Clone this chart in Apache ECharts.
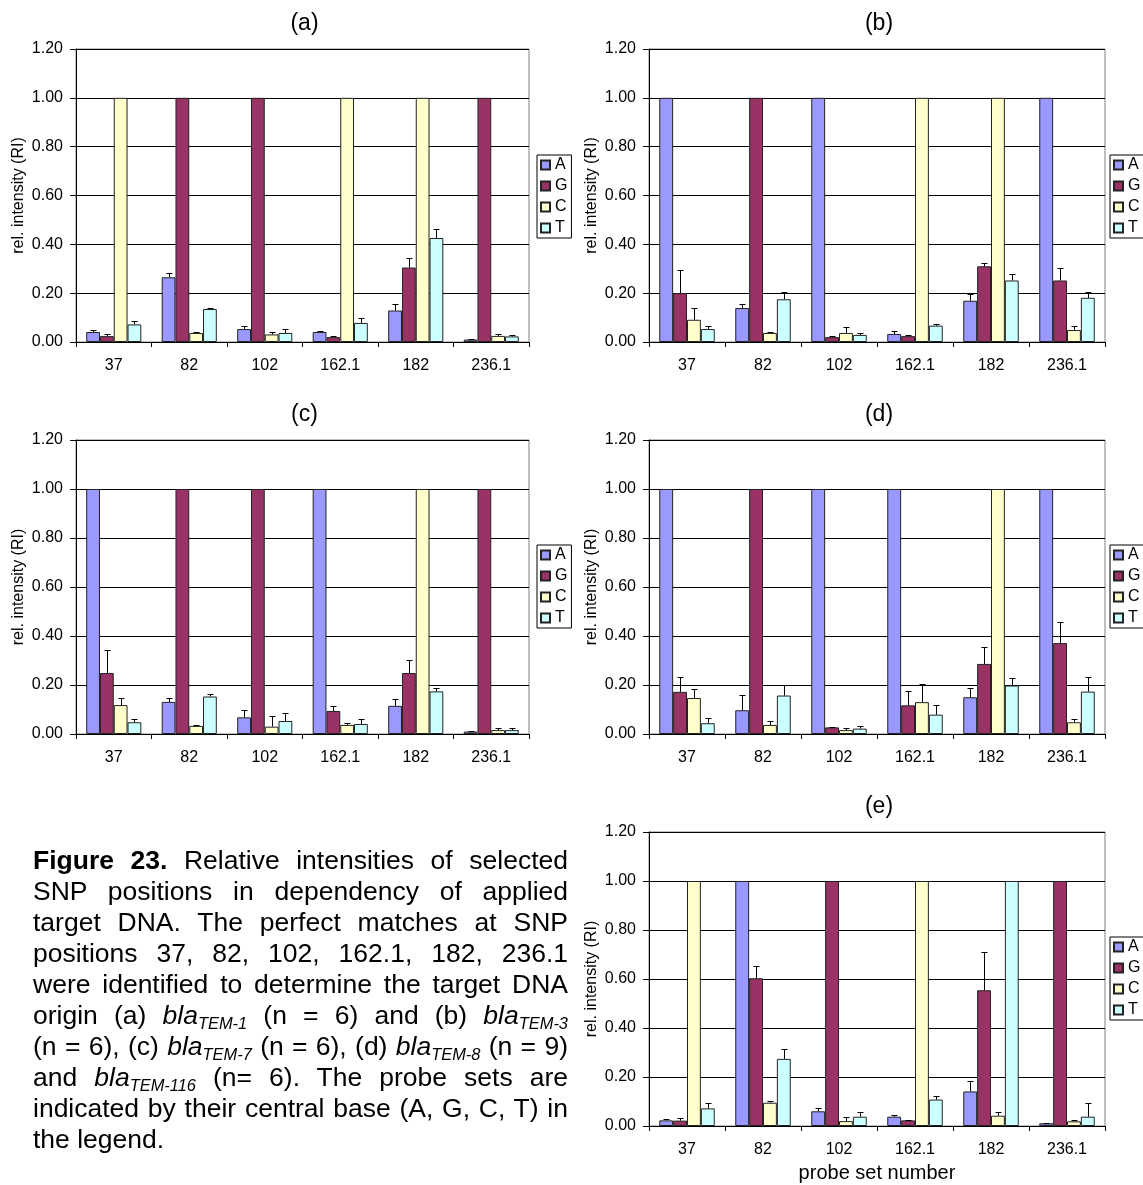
<!DOCTYPE html>
<html>
<head>
<meta charset="utf-8">
<script src="https://cdn.jsdelivr.net/npm/echarts@6/dist/echarts.min.js"></script>
<style>
    html, body { margin: 0; padding: 0; background: #fff; }
    #chart { position: absolute; left: 0; top: 0; width: 1143px; height: 1185px; }
    #caption {
        position: absolute; left: 33px; top: 845px; width: 535px;
        font-family: 'Liberation Sans', Arial, sans-serif; font-size: 26.5px; line-height: 31px; color: #000;
    }
    #caption div { text-align: justify; text-align-last: justify; white-space: nowrap; }
    #caption div.last { text-align-last: left; }
    #caption sub { font-size: 0.62em; vertical-align: -0.3em; line-height: 0; }
</style>
</head>
<body>
<div id="chart"></div>
<div id="caption">
    <div><b>Figure 23.</b> Relative intensities of selected</div>
    <div>SNP positions in dependency of applied</div>
    <div>target DNA. The perfect matches at SNP</div>
    <div>positions 37, 82, 102, 162.1, 182, 236.1</div>
    <div>were identified to determine the target DNA</div>
    <div>origin (a) <i>bla<sub>TEM-1</sub></i> (n = 6) and (b) <i>bla<sub>TEM-3</sub></i></div>
    <div>(n = 6), (c) <i>bla<sub>TEM-7</sub></i> (n = 6), (d) <i>bla<sub>TEM-8</sub></i> (n = 9)</div>
    <div>and <i>bla<sub>TEM-116</sub></i> (n= 6). The probe sets are</div>
    <div>indicated by their central base (A, G, C, T) in</div>
    <div class="last">the legend.</div>
</div>
<script>
    'use strict';

    // probe set numbers and central bases
    var categories = ['37', '82', '102', '162.1', '182', '236.1'];
    var bases = ['A', 'G', 'C', 'T'];

    // relative intensities, rows = A, G, C, T
    var relA = [
        [0.041, 0.265, 0.053, 0.041, 0.129, 0.010],
        [0.024, 1.00, 1.00, 0.020, 0.305, 1.00],
        [1.00, 0.037, 0.031, 1.00, 1.00, 0.025],
        [0.072, 0.135, 0.037, 0.078, 0.426, 0.023]
    ];
    var errA = [
        [0.007, 0.017, 0.014, 0.003, 0.027, 0.002],
        [0.009, 0, 0, 0.004, 0.038, 0],
        [0, 0.004, 0.011, 0, 0, 0.008],
        [0.012, 0.004, 0.017, 0.020, 0.038, 0.006]
    ];

    var relB = [
        [1.00, 0.139, 1.00, 0.033, 0.169, 1.00],
        [0.200, 1.00, 0.020, 0.024, 0.310, 0.252],
        [0.091, 0.037, 0.037, 1.00, 1.00, 0.049],
        [0.053, 0.175, 0.029, 0.067, 0.252, 0.181]
    ];
    var errB = [
        [0, 0.016, 0, 0.011, 0.028, 0],
        [0.093, 0, 0.004, 0.003, 0.014, 0.050],
        [0.048, 0.002, 0.023, 0, 0, 0.015],
        [0.011, 0.028, 0.008, 0.006, 0.027, 0.023]
    ];

    var relC = [
        [1.00, 0.131, 0.068, 1.00, 0.115, 0.010],
        [0.249, 1.00, 1.00, 0.094, 0.249, 1.00],
        [0.118, 0.033, 0.030, 0.037, 1.00, 0.016],
        [0.048, 0.153, 0.053, 0.041, 0.174, 0.016]
    ];
    var errC = [
        [0, 0.017, 0.030, 0, 0.029, 0.002],
        [0.095, 0, 0, 0.021, 0.054, 0],
        [0.028, 0.004, 0.044, 0.009, 0, 0.007],
        [0.014, 0.010, 0.033, 0.021, 0.015, 0.009]
    ];

    var relD = [
        [1.00, 0.097, 1.00, 1.00, 0.150, 1.00],
        [0.172, 1.00, 0.027, 0.117, 0.286, 0.371],
        [0.147, 0.037, 0.016, 0.130, 1.00, 0.048],
        [0.044, 0.157, 0.022, 0.079, 0.198, 0.173]
    ];
    var errD = [
        [0, 0.061, 0, 0, 0.036, 0],
        [0.060, 0, 0.003, 0.060, 0.069, 0.086],
        [0.036, 0.015, 0.010, 0.073, 0, 0.015],
        [0.020, 0.045, 0.009, 0.041, 0.031, 0.059]
    ];

    var relE = [
        [0.023, 1.00, 0.060, 0.038, 0.141, 0.011],
        [0.022, 0.603, 1.00, 0.023, 0.554, 1.00],
        [1.00, 0.095, 0.020, 1.00, 0.042, 0.019],
        [0.072, 0.274, 0.038, 0.108, 1.00, 0.038]
    ];
    var errE = [
        [0.007, 0, 0.012, 0.007, 0.042, 0.003],
        [0.012, 0.052, 0, 0.003, 0.155, 0],
        [0, 0.009, 0.015, 0, 0.015, 0.004],
        [0.021, 0.041, 0.021, 0.013, 0, 0.055]
    ];

    var yTicks = [0, 0.2, 0.4, 0.6, 0.8, 1.0, 1.2];

    // layout
    var colors = ['#9999ff', '#993366', '#ffffcc', '#ccffff'];
    var font = "'Liberation Sans', Arial, sans-serif";
    var gapPct = 0.27;
    var panels = [
        {label: '(a)', rel: relA, err: errA, left: 76, top: 49, width: 453, height: 293, lgLeft: 537, lgTop: 155},
        {label: '(b)', rel: relB, err: errB, left: 649, top: 49, width: 456, height: 293, lgLeft: 1110, lgTop: 155},
        {label: '(c)', rel: relC, err: errC, left: 76, top: 440, width: 453, height: 294, lgLeft: 537, lgTop: 545},
        {label: '(d)', rel: relD, err: errD, left: 649, top: 440, width: 456, height: 294, lgLeft: 1110, lgTop: 545},
        {label: '(e)', rel: relE, err: errE, left: 649, top: 832, width: 456, height: 294, lgLeft: 1110, lgTop: 937, xName: 'probe set number'}
    ];

    //误差线
    var makeErr = function (k) {
        return function (params, api) {
            var i = api.value(0), v = api.value(1), e = api.value(2);
            if (!e) {
                return;
            }
            var p0 = api.coord([i, v]);
            var p1 = api.coord([i, v + e]);
            var band = api.size([1, 0])[0];
            var cluster = band * (1 - gapPct);
            var x = Math.round(p0[0] - cluster / 2 + (k + 0.5) * cluster / 4) + 0.5;
            var yTop = Math.round(p1[1]) + 0.5;
            var style = {stroke: '#000', lineWidth: 1};
            return {
                type: 'group',
                children: [
                    {type: 'line', shape: {x1: x, y1: p0[1], x2: x, y2: yTop}, style: style},
                    {type: 'line', shape: {x1: x - 3, y1: yTop, x2: x + 3, y2: yTop}, style: style}
                ]
            };
        };
    };

    var option = {
        animation: false,
        backgroundColor: '#fff',
        textStyle: {fontFamily: font},
        title: [], grid: [], xAxis: [], yAxis: [], legend: [], series: []
    };

    panels.forEach(function (p, g) {
        option.title.push({
            text: p.label, left: p.left + p.width / 2 + 2, top: p.top - 37, textAlign: 'center', padding: 0,
            textStyle: {fontSize: 23, fontWeight: 'normal', color: '#000', lineHeight: 23, fontFamily: font}
        });
        option.grid.push({
            left: p.left, top: p.top, width: p.width, height: p.height,
            show: true, borderColor: '#808080', borderWidth: 1
        });
        option.xAxis.push({
            gridIndex: g, type: 'category', data: categories,
            axisLine: {lineStyle: {color: '#000', width: 1}},
            axisTick: {show: true, length: 5, lineStyle: {color: '#000'}},
            axisLabel: {color: '#000', fontSize: 16, margin: 16, interval: 0},
            name: p.xName || '', nameLocation: 'middle', nameGap: 37,
            nameTextStyle: {fontSize: 20, color: '#000'}
        });
        option.yAxis.push({
            gridIndex: g, type: 'value', min: yTicks[0], max: yTicks[yTicks.length - 1], interval: 0.2,
            axisLine: {show: true, lineStyle: {color: '#000', width: 1}},
            axisTick: {show: true, length: 6, lineStyle: {color: '#000'}},
            axisLabel: {color: '#000', fontSize: 16, margin: 13, formatter: function (v) { return v.toFixed(2); }},
            splitLine: {show: true, lineStyle: {color: '#000', width: 1}},
            name: 'rel. intensity (RI)', nameLocation: 'middle', nameGap: 49,
            nameTextStyle: {fontSize: 16, color: '#000'}
        });
        option.legend.push({
            data: bases, orient: 'vertical', left: p.lgLeft, top: p.lgTop,
            icon: 'rect', itemWidth: 9, itemHeight: 9, itemGap: 5, itemTextGap: 3,
            padding: [2, 4, 2, 3], borderColor: '#000', borderWidth: 1, backgroundColor: '#fff',
            textStyle: {fontSize: 16, color: '#000', lineHeight: 16}
        });
        bases.forEach(function (b, k) {
            option.series.push({
                type: 'bar', name: b, xAxisIndex: g, yAxisIndex: g,
                data: p.rel[k], barGap: '0%', barCategoryGap: (gapPct * 100) + '%',
                itemStyle: {color: colors[k], borderColor: '#222', borderWidth: 1},
                emphasis: {disabled: true}
            });
        });
        bases.forEach(function (b, k) {
            option.series.push({
                type: 'custom', name: 'err ' + b, xAxisIndex: g, yAxisIndex: g, z: 5, silent: true,
                data: p.rel[k].map(function (v, i) { return [i, v, p.err[k][i]]; }),
                renderItem: makeErr(k)
            });
        });
    });

    var chart = echarts.init(document.getElementById('chart'), null, {renderer: 'canvas'});
    chart.setOption(option);
</script>
</body>
</html>
